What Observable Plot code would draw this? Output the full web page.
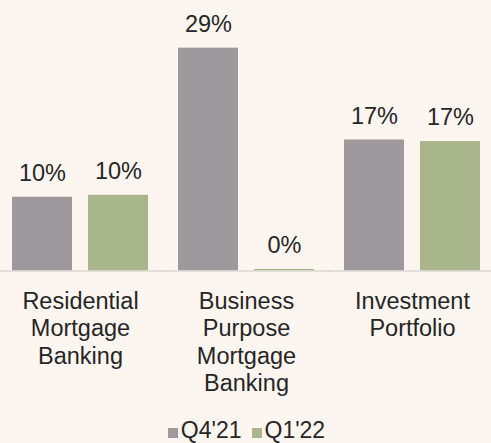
<!DOCTYPE html>
<html><head><meta charset="utf-8">
<script src="https://cdn.jsdelivr.net/npm/d3@7"></script>
<script src="https://cdn.jsdelivr.net/npm/@observablehq/plot@0.6"></script>
<style>
html,body{margin:0;padding:0;background:#FDF5EF;}
#legend{display:flex;justify-content:center;align-items:baseline;font:23px "Liberation Sans",Arial,sans-serif;color:#262626;height:25px;line-height:25px;padding-left:2px;}
#legend .item{display:flex;align-items:baseline;margin:0 5px;}
#legend .sw{display:inline-block;width:10px;height:10px;margin-right:3px;}
</style></head><body><div id="chart"></div><div id="legend"></div>
<script>
const categories = ["Residential\nMortgage\nBanking", "Business\nPurpose\nMortgage\nBanking", "Investment\nPortfolio"];
const series = ["Q4'21", "Q1'22"];
const q421 = [9.6, 29.0, 17.05];
const q122 = [9.85, 0.2, 16.85];
const colors = ["#9E999D", "#A9B68B"];

const data = categories.flatMap((c, i) => [
  {category: c, series: series[0], value: q421[i]},
  {category: c, series: series[1], value: q122[i]}
]);

const chart = Plot.plot({
  width: 491, height: 418,
  marginTop: 40, marginBottom: 147.5, marginLeft: 0, marginRight: 0,
  style: {background: "#FDF5EF", fontFamily: '"Liberation Sans", Arial, sans-serif', color: "#262626"},
  fx: {domain: categories, paddingInner: 0.051, paddingOuter: 0, label: null},
  x: {domain: series, paddingInner: 0.214, paddingOuter: 0.1425, axis: null},
  y: {domain: [0, 30], axis: null},
  color: {domain: series, range: colors},
  marks: [
    Plot.barY(data, {fx: "category", x: "series", y: "value", fill: "series"}),
    Plot.ruleY([0], {stroke: "#DAD6D2", strokeWidth: 1.5, insetLeft: -6, insetRight: -6}),
    Plot.text(data, {fx: "category", x: "series", y: "value", text: d => Math.round(d.value) + "%", dy: -24, fontSize: 23.5, fill: "#262626"}),
    Plot.axisFx({anchor: "bottom", tickSize: 0, tickPadding: 18, fontSize: 23.5, lineHeight: 1.17, label: null, fill: "#262626"})
  ]
});
document.getElementById("chart").appendChild(chart);

const legend = document.getElementById("legend");
series.forEach((s, i) => {
  const item = document.createElement("span");
  item.className = "item";
  const sw = document.createElement("span");
  sw.className = "sw";
  sw.style.background = colors[i];
  item.appendChild(sw);
  item.appendChild(document.createTextNode(s));
  legend.appendChild(item);
});
</script></body></html>
